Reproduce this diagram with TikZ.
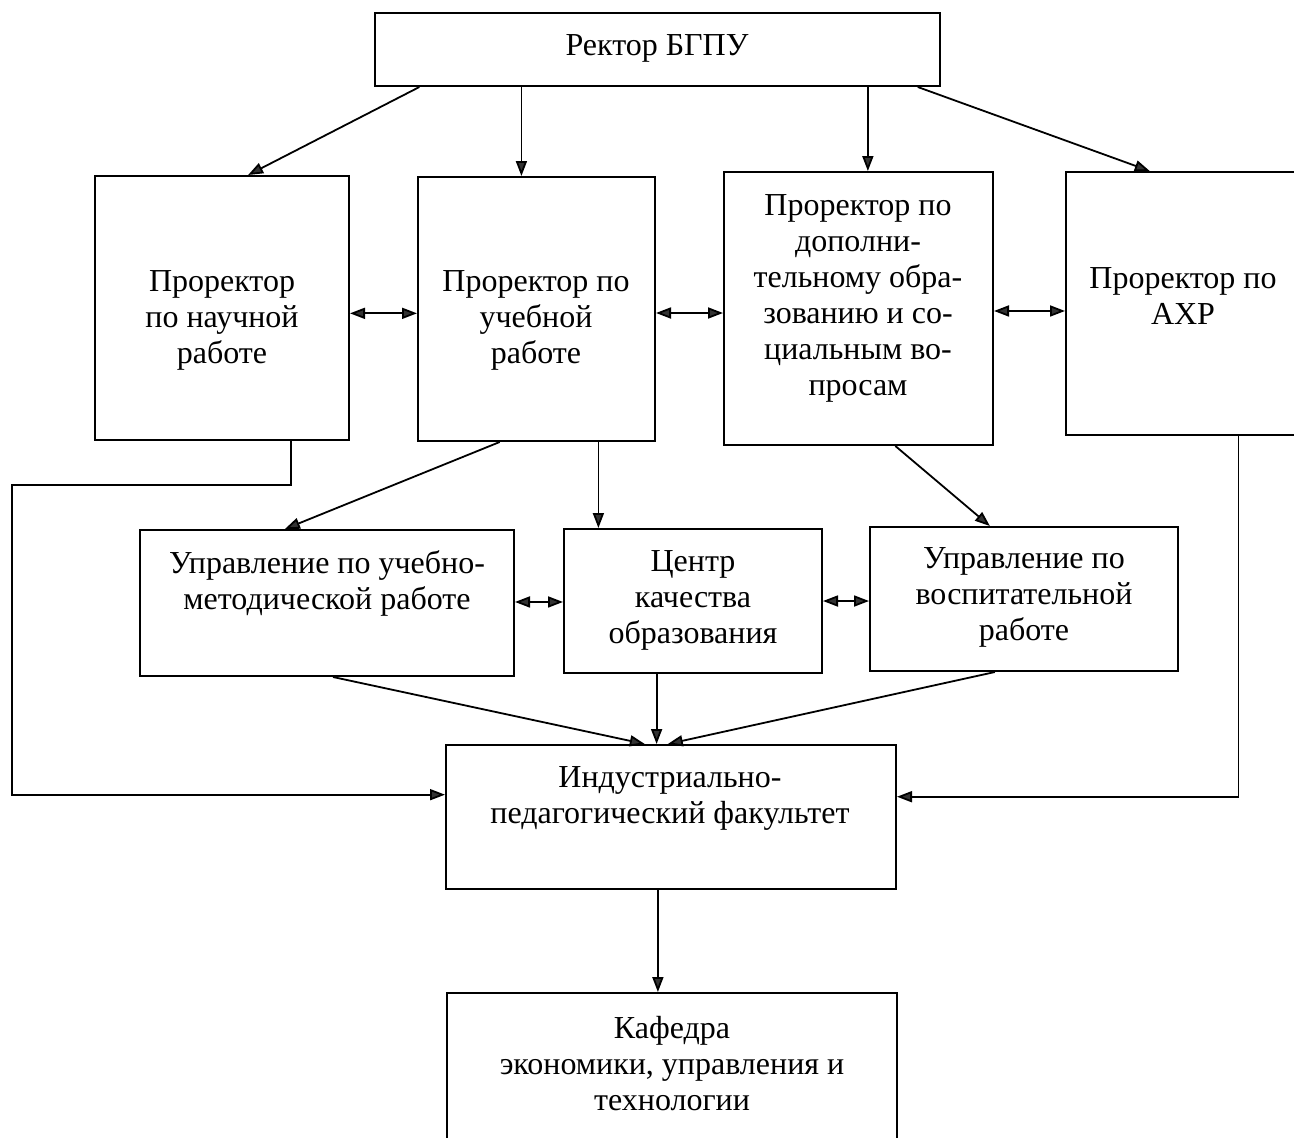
\documentclass[tikz,border=0pt]{standalone}
\usepackage{fontspec}
\setmainfont{Liberation Serif}
\usetikzlibrary{arrows.meta,calc,fit}
\begin{document}
\begin{tikzpicture}[x=0.5pt,y=-0.5pt,
 box/.style={draw, line width=1pt, inner sep=0pt, rectangle},
 txt/.style={align=center, font=\fontsize{16pt}{18pt}\selectfont, inner sep=0pt},
 ln/.style={line width=0.9pt},
 arr/.style={ln, -{Triangle[length=7.5pt,width=5.5pt,fill=black!80]}},
 dbl/.style={ln, {Triangle[length=7.5pt,width=5.5pt,fill=black!80]}-{Triangle[length=7.5pt,width=5.5pt,fill=black!80]}}]
\useasboundingbox (0,0) rectangle (1294,1137);
\clip (0,0) rectangle (1294,1137);
% boxes
\node[box, fit={(375,13)(940,86)}] (r) {};
\node[box, fit={(95,176)(349,440)}] (p1) {};
\node[box, fit={(418,177)(655,441)}] (p2) {};
\node[box, fit={(724,172)(993,445)}] (p3) {};
\node[box, fit={(1066,172)(1300,435)}] (p4) {};
\node[box, fit={(140,530)(514,676)}] (u1) {};
\node[box, fit={(564,529)(822,673)}] (c) {};
\node[box, fit={(870,527)(1178,671)}] (u2) {};
\node[box, fit={(446,745)(896,889)}] (f) {};
\node[box, fit={(447,993)(897,1150)}] (k) {};
% texts
\node[txt] (rt) at (657,48) {Ректор БГПУ};
\node[txt] (p1t) at (222,320) {Проректор\\по научной\\работе};
\node[txt] (p2t) at (536,320) {Проректор по\\учебной\\работе};
\node[txt] (p3t) at (858,298) {Проректор по\\дополни-\\тельному обра-\\зованию и со-\\циальным во-\\просам};
\node[txt] (p4t) at (1183,296) {Проректор по\\АХР};
\node[txt] (u1t) at (327,583) {Управление по учебно-\\методической работе};
\node[txt] (ct) at (693,600) {Центр\\качества\\образования};
\node[txt] (u2t) at (1024,597) {Управление по\\воспитательной\\работе};
\node[txt] (ft) at (670,798) {Индустриально-\\педагогический факультет};
\node[txt] (kt) at (672,1064) {Кафедра\\экономики, управления и\\технологии};
% rector arrows
\draw[arr] ($(r.south west)!0.080!(r.south east)$) -- ($(p1.north west)!0.602!(p1.north east)$);
\draw[arr] ($(r.south west)!0.260!(r.south east)$) coordinate (a2) -- (a2 |- p2.north);
\draw[arr] ($(r.south west)!0.871!(r.south east)$) coordinate (a3) -- (a3 |- p3.north);
\draw[arr] ($(r.south west)!0.959!(r.south east)$) -- ($(p4.north west)!0.359!(p4.north east)$);
% horizontal double arrows
\draw[dbl] ($(p1.north east)!0.52!(p1.south east)$) coordinate (h1) -- (h1 -| p2.west);
\draw[dbl] ($(p2.north east)!0.515!(p2.south east)$) coordinate (h2) -- (h2 -| p3.west);
\draw[dbl] ($(p3.north east)!0.509!(p3.south east)$) coordinate (h3) -- (h3 -| p4.west);
\draw[dbl] ($(u1.north east)!0.493!(u1.south east)$) coordinate (h4) -- (h4 -| c.west);
\draw[dbl] ($(c.north east)!0.5!(c.south east)$) coordinate (h5) -- (h5 -| u2.west);
% second level
\draw[arr] ($(p2.south west)!0.346!(p2.south east)$) -- ($(u1.north west)!0.388!(u1.north east)$);
\draw[arr] ($(p2.south west)!0.759!(p2.south east)$) coordinate (b2) -- (b2 |- c.north);
\draw[arr] ($(p3.south west)!0.636!(p3.south east)$) -- ($(u2.north west)!0.390!(u2.north east)$);
% to faculty
\draw[arr] ($(u1.south west)!0.516!(u1.south east)$) -- ($(f.north west)!0.442!(f.north east)$);
\draw[arr] ($(c.south west)!0.360!(c.south east)$) coordinate (b5) -- (b5 |- f.north);
\draw[arr] ($(u2.south west)!0.406!(u2.south east)$) -- ($(f.north west)!0.493!(f.north east)$);
% side routes
\coordinate (lc1) at (12,485);
\draw[arr] ($(p1.south west)!0.768!(p1.south east)$) |- (lc1) |- ($(f.north west)!0.347!(f.south west)$);
\draw[arr] ($(p4.south west)!0.735!(p4.south east)$) |- ($(f.north east)!0.361!(f.south east)$);
% to department
\draw[arr] ($(f.south west)!0.471!(f.south east)$) coordinate (b8) -- (b8 |- k.north);
\end{tikzpicture}
\end{document}
